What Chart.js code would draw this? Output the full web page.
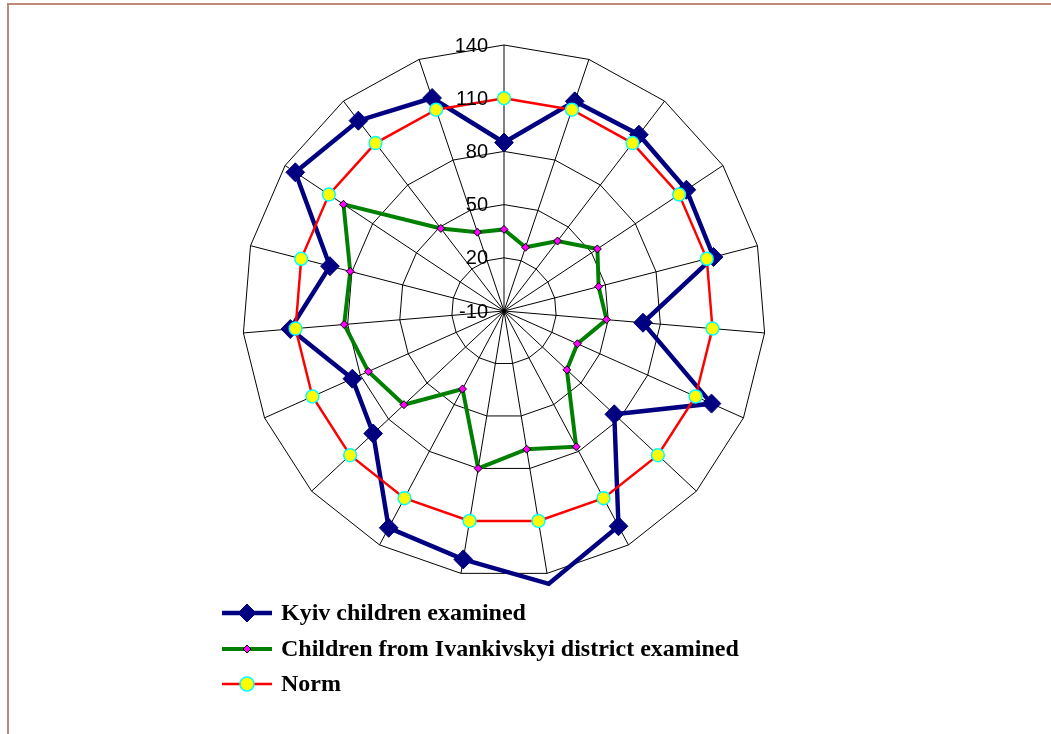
<!DOCTYPE html>
<html>
<head>
<meta charset="utf-8">
<script src="https://cdn.jsdelivr.net/npm/chart.js@4/dist/chart.umd.min.js"></script>
<style>
html,body{margin:0;padding:0;background:#fff;}
#wrap{position:relative;width:1051px;height:734px;}
canvas{display:block;}
</style>
</head>
<body>
<div id="wrap"><canvas id="c" width="1051" height="734"></canvas></div>
<script>
// ---- data ----
const categories = ['1','2','3','4','5','6','7','8','9','10','11','12','13','14','15','16','17','18','19'];
const kyivValues = [85, 115, 116, 115, 114, 70, 120, 76, 128, 146, 132, 129, 92, 85, 113, 93, 133, 126, 117];
const ivankivValues = [36, 28, 40, 54, 46, 49, 36, 39, 77, 69, 80, 40, 68, 75, 82, 81, 100, 49, 37];
const normValues = [110, 110, 110, 110, 110, 110, 110, 110, 110, 110, 110, 110, 110, 110, 110, 110, 110, 110, 110];
const tickValues = [-10, 20, 50, 80, 110, 140];
const tickLabels = ['-10', '20', '50', '80', '110', '140'];
const seriesNames = ['Kyiv children examined', 'Children from Ivankivskyi district examined', 'Norm'];

const scaleMin = tickValues[0];
const scaleMax = tickValues[tickValues.length - 1];
const xStretch = 0.983; // plot is slightly narrower than tall in the original

const decorPlugin = {
  id: 'decor',
  beforeDraw(chart) {
    const ctx = chart.ctx;
    const s = chart.scales.r;
    ctx.fillStyle = '#fff';
    ctx.fillRect(0, 0, chart.width, chart.height);
    ctx.save();
    ctx.translate(s.xCenter, 0);
    ctx.scale(xStretch, 1);
    ctx.translate(-s.xCenter, 0);
  },
  afterDatasetsDraw(chart) {
    const ctx = chart.ctx;
    ctx.restore();
    const s = chart.scales.r;
    ctx.save();
    ctx.font = '20px "Liberation Sans", Arial, sans-serif';
    ctx.fillStyle = '#000';
    ctx.textAlign = 'right';
    ctx.textBaseline = 'middle';
    tickValues.forEach((v, i) => {
      const d = s.getDistanceFromCenterForValue(v);
      ctx.fillText(tickLabels[i], s.xCenter - 16, s.yCenter - d + 1);
    });
    ctx.restore();
  },
  afterDraw(chart) {
    const ctx = chart.ctx;
    ctx.save();
    // frame
    ctx.fillStyle = '#C08878';
    ctx.fillRect(7, 3, chart.width - 7, 2);
    ctx.fillRect(7, 3, 2, chart.height - 3);
    // legend
    const ys = [613, 649, 684];
    const x0 = 222, x1 = 272, xm = (x0 + x1) / 2;
    chart.data.datasets.forEach((ds, i) => {
      const y = ys[i];
      ctx.strokeStyle = ds.borderColor;
      ctx.lineWidth = ds.borderWidth;
      ctx.beginPath();
      ctx.moveTo(x0, y);
      ctx.lineTo(x1, y);
      ctx.stroke();
      ctx.fillStyle = ds.pointBackgroundColor;
      ctx.strokeStyle = ds.pointBorderColor;
      ctx.lineWidth = ds.pointBorderWidth;
      Chart.helpers.drawPoint(ctx, {
        pointStyle: ds.pointStyle,
        radius: ds.legendRadius,
        rotation: 0,
        borderWidth: ds.pointBorderWidth
      }, xm, y);
      ctx.fillStyle = '#000';
      ctx.font = 'bold 24px "Liberation Serif", "Times New Roman", serif';
      ctx.textAlign = 'left';
      ctx.textBaseline = 'middle';
      ctx.fillText(ds.label, 281, y + 1);
    });
    ctx.restore();
  }
};

new Chart(document.getElementById('c'), {
  type: 'radar',
  data: {
    labels: categories,
    datasets: [
      {
        label: seriesNames[0],
        data: kyivValues,
        borderColor: '#000080',
        borderWidth: 4.5,
        pointStyle: 'rectRot',
        pointRadius: (c) => (c.raw > scaleMax ? 0 : 9.5),
        legendRadius: 9,
        pointBackgroundColor: '#000080',
        pointBorderColor: '#000080',
        pointBorderWidth: 1,
        fill: false,
        tension: 0,
        order: 3
      },
      {
        label: seriesNames[1],
        data: ivankivValues,
        borderColor: '#008000',
        borderWidth: 4,
        pointStyle: 'rectRot',
        pointRadius: 4,
        legendRadius: 4,
        pointBackgroundColor: '#FF00FF',
        pointBorderColor: '#000000',
        pointBorderWidth: 1,
        fill: false,
        tension: 0,
        order: 2
      },
      {
        label: seriesNames[2],
        data: normValues,
        borderColor: '#FF0000',
        borderWidth: 2.5,
        pointStyle: 'circle',
        pointRadius: 6.5,
        legendRadius: 7,
        pointBackgroundColor: '#FFFF00',
        pointBorderColor: '#00FFFF',
        pointBorderWidth: 1.5,
        fill: false,
        tension: 0,
        order: 1
      }
    ]
  },
  options: {
    responsive: false,
    animation: false,
    layout: { padding: { top: 45, bottom: 157, left: 238, right: 281 } },
    plugins: {
      legend: { display: false },
      tooltip: { enabled: false },
      title: { display: false }
    },
    scales: {
      r: {
        min: scaleMin,
        max: scaleMax,
        ticks: { display: false, stepSize: 30 },
        pointLabels: { display: false },
        grid: { color: '#000', lineWidth: 1, circular: false },
        angleLines: { color: '#000', lineWidth: 1 }
      }
    }
  },
  plugins: [decorPlugin]
});
</script>
</body>
</html>
